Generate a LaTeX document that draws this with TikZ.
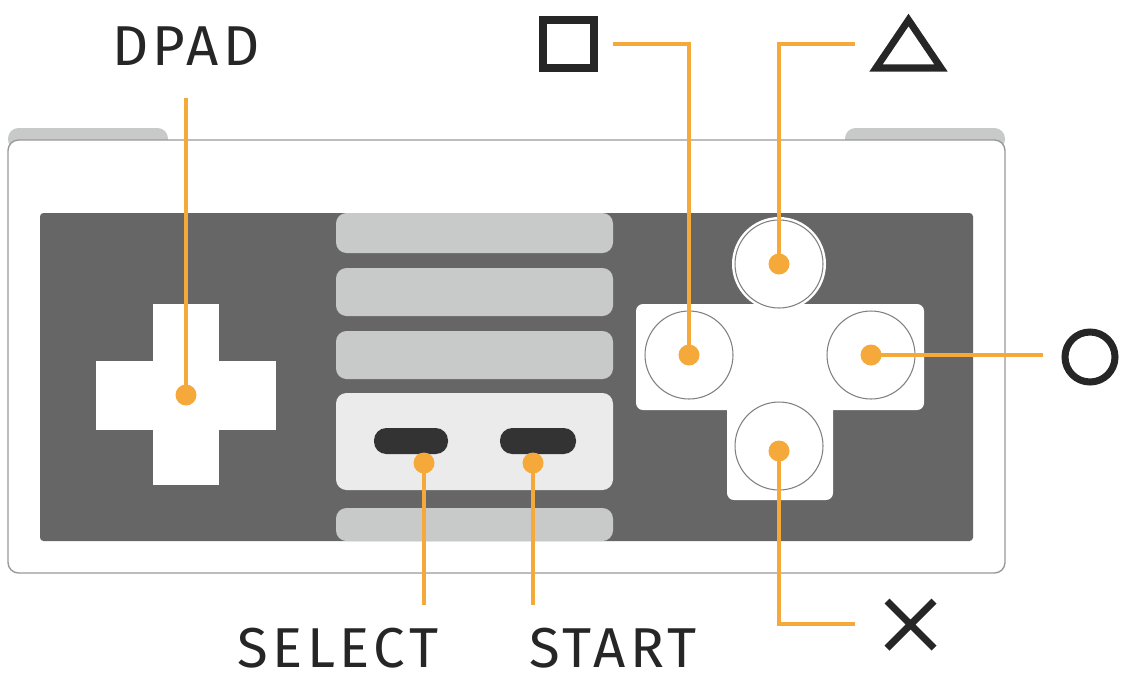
\documentclass[tikz,border=0pt]{standalone}
\usepackage{fontspec}
\setmainfont{Fira Sans}[LetterSpace=8]
\begin{document}
\begin{tikzpicture}[x=0.02cm,y=-0.02cm,
  org/.style={draw=org, line width=2.2pt},
  dot/.style={circle, fill=org, minimum size=0.42cm, inner sep=0pt},
  btn/.style={circle, fill=white, draw=gray, line width=0.6pt, minimum size=1.76cm, inner sep=0pt},
  lab/.style={font=\fontsize{32}{32}\selectfont, text=black!85, inner sep=0pt},
  sym/.style={draw=black!85, line width=4pt}]
\definecolor{org}{HTML}{F5A93A}
\useasboundingbox (0,0) rectangle (1135,691);
% tabs
\fill[rounded corners=6pt, fill={rgb,255:red,200;green,202;blue,201}] (8,128) rectangle (168,150);
\fill[rounded corners=6pt, fill={rgb,255:red,200;green,202;blue,201}] (845,128) rectangle (1005,150);
% body
\draw[fill=white, draw=gray!80, line width=0.8pt, rounded corners=6pt] (8,140) rectangle (1005,573);
% panel
\fill[fill={rgb,255:red,102;green,102;blue,102}, rounded corners=2pt] (40,213) rectangle (973,541);
% stripes
\begin{scope}[rounded corners=6pt]
\fill[fill={rgb,255:red,200;green,202;blue,201}] (336,213) rectangle (613,253);
\fill[fill={rgb,255:red,200;green,202;blue,201}] (336,268) rectangle (613,316);
\fill[fill={rgb,255:red,200;green,202;blue,201}] (336,331) rectangle (613,379);
\fill[fill={rgb,255:red,235;green,235;blue,235}] (336,393) rectangle (613,490);
\fill[fill={rgb,255:red,200;green,202;blue,201}] (336,508) rectangle (613,541);
\fill[fill={rgb,255:red,51;green,51;blue,51}, rounded corners=7pt] (374,428) rectangle (448,454);
\fill[fill={rgb,255:red,51;green,51;blue,51}, rounded corners=7pt] (500,428) rectangle (576,454);
\end{scope}
% dpad
\fill[white] (153,304) rectangle (219,485);
\fill[white] (96,361) rectangle (276,430);
% right cross
\fill[white, rounded corners=4pt] (636,304) rectangle (924,410);
\fill[white, rounded corners=4pt] (727,304) rectangle (833,500);
\fill[white] (779,264) circle[radius=47];
\node[btn] (bt) at (779,264) {};
\node[btn] (bl) at (689,355) {};
\node[btn] (br) at (871,355) {};
\node[btn] (bb) at (779,446) {};
% dots
\node[dot] (dd) at (186,395) {};
\node[dot] (ds) at (424,463) {};
\node[dot] (dst) at (533,463) {};
\node[dot] (dt) at (779,264) {};
\node[dot] (dl) at (689,355) {};
\node[dot] (dr) at (871,355) {};
\node[dot] (db) at (779,451) {};
% label anchors
\coordinate (cd) at (186,98);
\coordinate (cs) at (424,605);
\coordinate (cst) at (533,605);
\coordinate (csq) at (613,44);
\coordinate (ctr) at (855,44);
\coordinate (cci) at (1043,355);
\coordinate (cx) at (855,624);
\draw[org] (dd.center) -- (cd);
\draw[org] (ds.center) -- (cs);
\draw[org] (dst.center) -- (cst);
\draw[org] (dl.center) |- (csq);
\draw[org] (dt.center) |- (ctr);
\draw[org] (dr.center) -- (cci);
\draw[org] (db.center) |- (cx);
% labels
\node[lab] (ld) at (186,46) {DPAD};
\node[lab] (lsel) at (338,648) {SELECT};
\node[lab] (lst) at (613,648) {START};
% symbols
\draw[sym] (543,20) rectangle (594,68);
\draw[sym, line join=miter] (876,68) -- (941,68) -- (908.5,20) -- cycle;
\node[sym, circle, minimum size=1.0cm, inner sep=0pt] (sc) at (1090,357) {};
\draw[sym] (887,601) -- (934,648) (934,601) -- (887,648);
\end{tikzpicture}
\end{document}
